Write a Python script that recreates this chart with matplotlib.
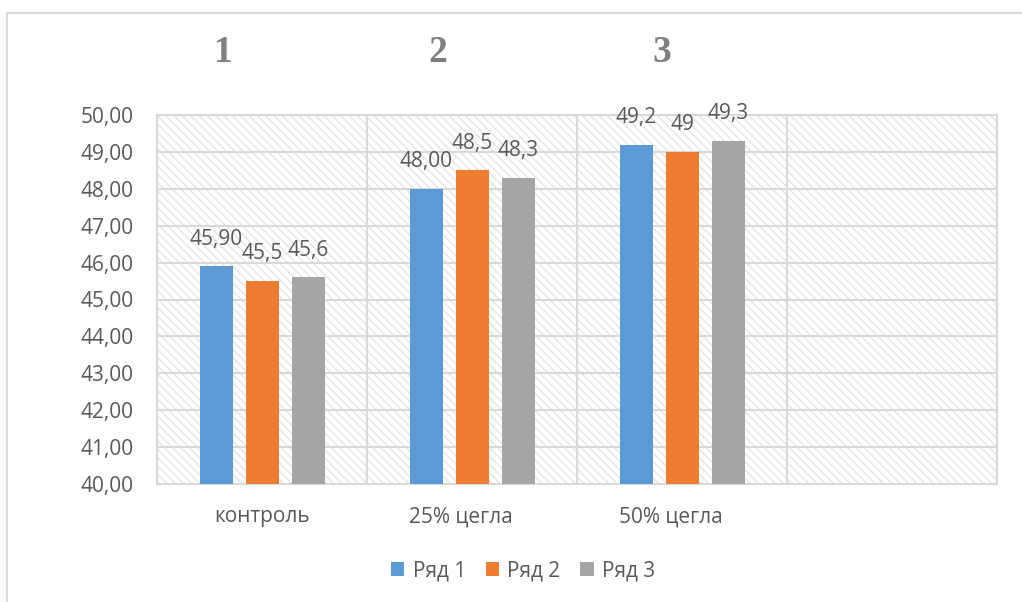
import matplotlib
matplotlib.use("Agg")
import matplotlib.pyplot as plt
from matplotlib.patches import Rectangle
from matplotlib.lines import Line2D
import numpy as np

categories = ["контроль", "25% цегла    ", "50% цегла    ", ""]
series_names = ["Ряд 1", "Ряд 2", "Ряд 3"]
ryad1 = [45.90, 48.00, 49.2]
ryad2 = [45.5, 48.5, 49]
ryad3 = [45.6, 48.3, 49.3]
labels1 = ["45,90", "48,00", "49,2"]
labels2 = ["45,5", "48,5", "49"]
labels3 = ["45,6", "48,3", "49,3"]
yticks = [40, 41, 42, 43, 44, 45, 46, 47, 48, 49, 50]
ytick_labels = ["40,00", "41,00", "42,00", "43,00", "44,00", "45,00",
                "46,00", "47,00", "48,00", "49,00", "50,00"]
group_titles = ["1", "2", "3"]

colors = ["#5b9bd5", "#ed7d31", "#a5a5a5"]
text_color = "#595959"
grid_color = "#d9d9d9"
font = "Open Sans"
plt.rcParams['font.family'] = [font, 'DejaVu Sans']
plt.rcParams['hatch.linewidth'] = 1.0
plt.rcParams['hatch.color'] = "#e4e4e4"

fig = plt.figure(figsize=(10.22, 6.02), dpi=100)
ax = fig.add_axes([157/1022, 1-484/602, (997-157)/1022, (484-115)/602])

# hatched background
ax.add_patch(Rectangle((0, 0), 1, 1, transform=ax.transAxes, facecolor="white",
                       edgecolor="#e4e4e4", hatch="\\\\\\\\", linewidth=0, zorder=0))

x = np.arange(len(categories))
w = 33/210
off = 46/210
series = [ryad1, ryad2, ryad3]
labels = [labels1, labels2, labels3]
for i, (vals, labs) in enumerate(zip(series, labels)):
    xs = x[:len(vals)] + (i-1)*off
    ax.bar(xs, [v-40 for v in vals], bottom=40, width=w, color=colors[i], zorder=3,
           label=series_names[i])
    for xi, v, lab in zip(xs, vals, labs):
        ax.annotate(lab, (xi, v), xytext=(0, 12), textcoords="offset points",
                    ha="center", va="bottom", fontsize=15, color=text_color, zorder=4)

for yv in yticks:
    ax.axhline(yv, color=grid_color, lw=1.5, zorder=2)
for xv in np.arange(-0.5, len(categories), 1.0):
    ax.axvline(xv, color=grid_color, lw=1.5, zorder=2)

ax.set_xlim(-0.5, len(categories)-0.5)
ax.set_ylim(40, 50)
ax.set_yticks(yticks)
ax.set_yticklabels(ytick_labels)
ax.set_xticks(x)
ax.set_xticklabels(categories)
ax.tick_params(axis="both", length=0, labelsize=15, labelcolor=text_color)
ax.tick_params(axis="y", pad=17)
ax.tick_params(axis="x", pad=16)
for s in ax.spines.values():
    s.set_color(grid_color)
    s.set_linewidth(1.5)
    s.set_zorder(2)

title_x = [223, 438, 662]
for t, px in zip(group_titles, title_x):
    fig.text(px/1022, 1-52/602, t, ha="center", va="center", fontsize=27,
             fontweight="bold", color="#7f7f7f", family="Liberation Serif")

leg = fig.legend(loc="center", bbox_to_anchor=(523/1022, 1-571/602), ncol=3,
                 frameon=False, fontsize=15, handlelength=0.65, handleheight=0.65,
                 handletextpad=0.4, columnspacing=0.95, labelcolor=text_color)

# outer border (top and left)
fig.add_artist(Line2D([7/1022, 1], [1-13/602, 1-13/602], transform=fig.transFigure,
                      color="#d9d9d9", lw=1.5))
fig.add_artist(Line2D([7/1022, 7/1022], [0, 1-13/602], transform=fig.transFigure,
                      color="#d9d9d9", lw=1.5))

fig.savefig("out.png", dpi=100)
